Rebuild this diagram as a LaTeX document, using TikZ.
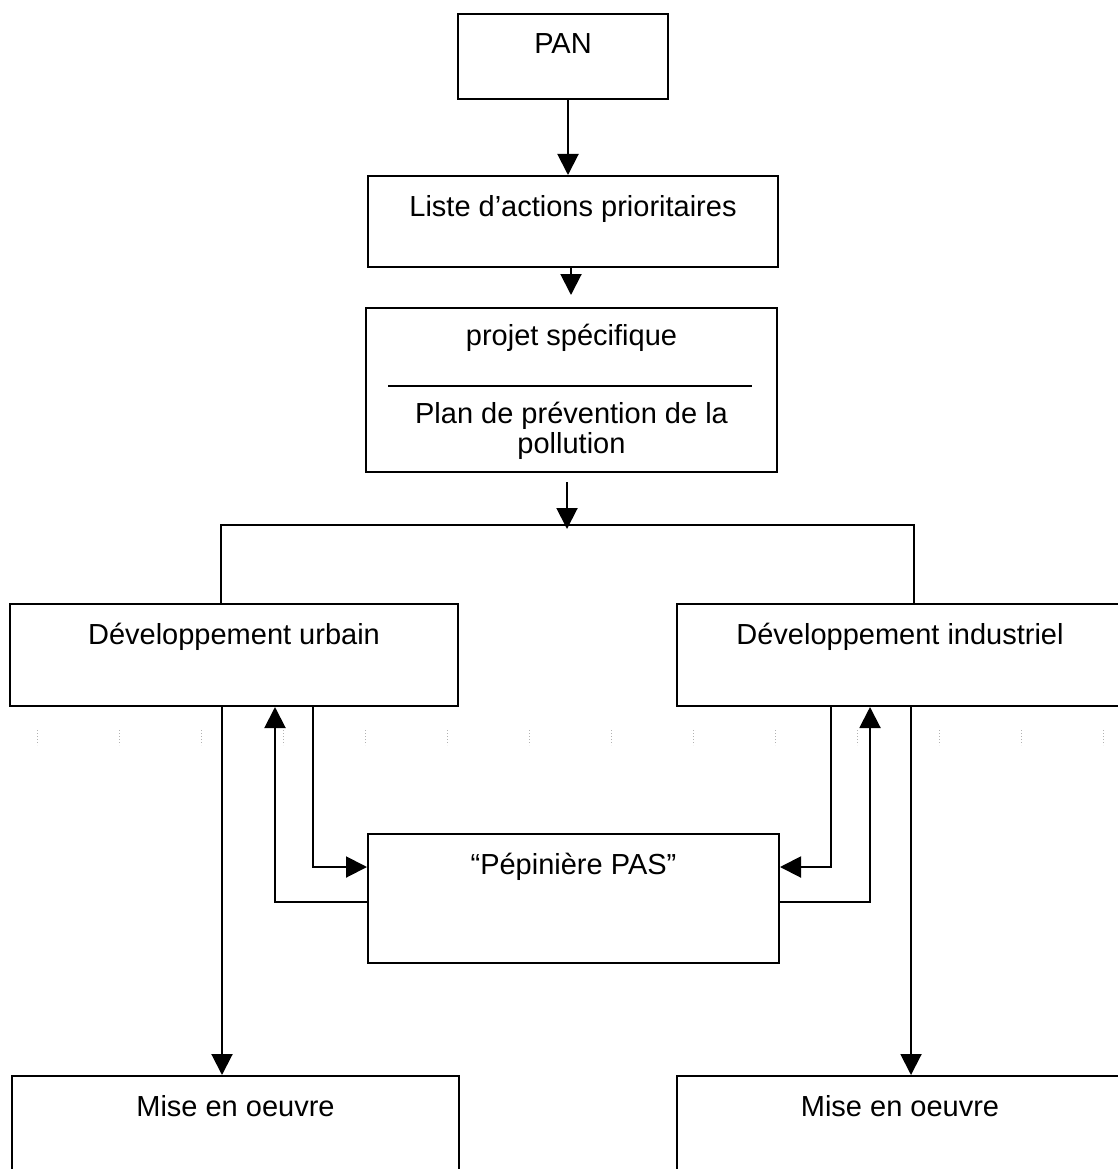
\documentclass[tikz,border=0pt]{standalone}
\usepackage{fontspec}
\setmainfont{Liberation Sans}
\usepackage{tikz}
\usetikzlibrary{arrows.meta}
\usetikzlibrary{positioning,calc}

\begin{document}
\begin{tikzpicture}[>={Triangle[length=21pt,width=21pt]}, x=1pt, y=-1pt]
\tikzstyle{box}=[draw=black, line width=2pt, inner sep=0pt, anchor=north west, text height=40pt, font=\fontsize{29}{30}\selectfont]
\tikzstyle{link}=[line width=2pt]
\tikzstyle{tick}=[black!30, dotted, line width=1pt]
\useasboundingbox (0,0) rectangle (1118,1169);
\clip (0,0) rectangle (1118,1169);
\fill[white] (0,0) rectangle (1118,1169);
% faint marks across the page
\foreach \k in {0,...,13}
  \draw[tick] ({37.5+82*\k},730) -- ({37.5+82*\k},745);
% top chain
\node[box, minimum width=210pt, text depth=45pt] (pan) at (457,13) {PAN};
\node[box, minimum width=410pt, text depth=51pt] (liste) at (367,175) {Liste d’actions prioritaires};
\node[box, minimum width=411pt, text height=37pt, text depth=127pt] (projet) at (365,307) {projet spécifique};
\draw[link] ($(projet.north west)+(23,79)$) -- ($(projet.north east)+(-26,79)$);
\node[font=\fontsize{29}{30}\selectfont, align=center, anchor=north, inner sep=0pt] (plan) at ($(projet.north)+(0,95)$) {Plan de prévention de la\\pollution};
% two branches
\node[box, minimum width=448pt, text depth=62pt] (du) at (9,603) {Développement urbain};
\node[box, minimum width=446pt, text depth=62pt] (di) at (676,603) {Développement industriel};
\node[box, minimum width=411pt, text depth=89pt] (pep) at (367,833) {“Pépinière PAS”};
\node[box, minimum width=447pt, text depth=80pt] (mu) at (11,1075) {Mise en oeuvre};
\node[box, minimum width=446pt, text depth=80pt] (mi) at (676,1075) {Mise en oeuvre};
\coordinate (bus) at (567,525);
% main arrows
\draw[link,->] ([xshift=5pt]pan.south) -- ([xshift=5pt]pan.south |- liste.north);
\draw[link,->] ([xshift=-2pt]liste.south) -- ($(liste.south |- projet.north)+(-2,-12)$);
\draw[link,->] ($(projet.south -| bus)+(0,9)$) -- ($(bus)+(0,4)$);
\draw[link] ([xshift=-13pt]du.north) |- (bus) -| ([xshift=14pt]di.north);
% exchanges with the nursery
\draw[link,->] ([xshift=79pt]du.south) |- ([yshift=31.5pt]pep.west);
\draw[link,->] ([yshift=-3.5pt]pep.west) -| ([xshift=41pt]du.south);
\draw[link,->] ([xshift=-69pt]di.south) |- ([yshift=31.5pt]pep.east);
\draw[link,->] ([yshift=-3.5pt]pep.east) -| ([xshift=-30pt]di.south);
% down to implementation
\draw[link,->] ([xshift=-12pt]du.south) -- ([xshift=-12pt]du.south |- mu.north);
\draw[link,->] ([xshift=11pt]di.south) -- ([xshift=11pt]di.south |- mi.north);
\end{tikzpicture}
\end{document}
